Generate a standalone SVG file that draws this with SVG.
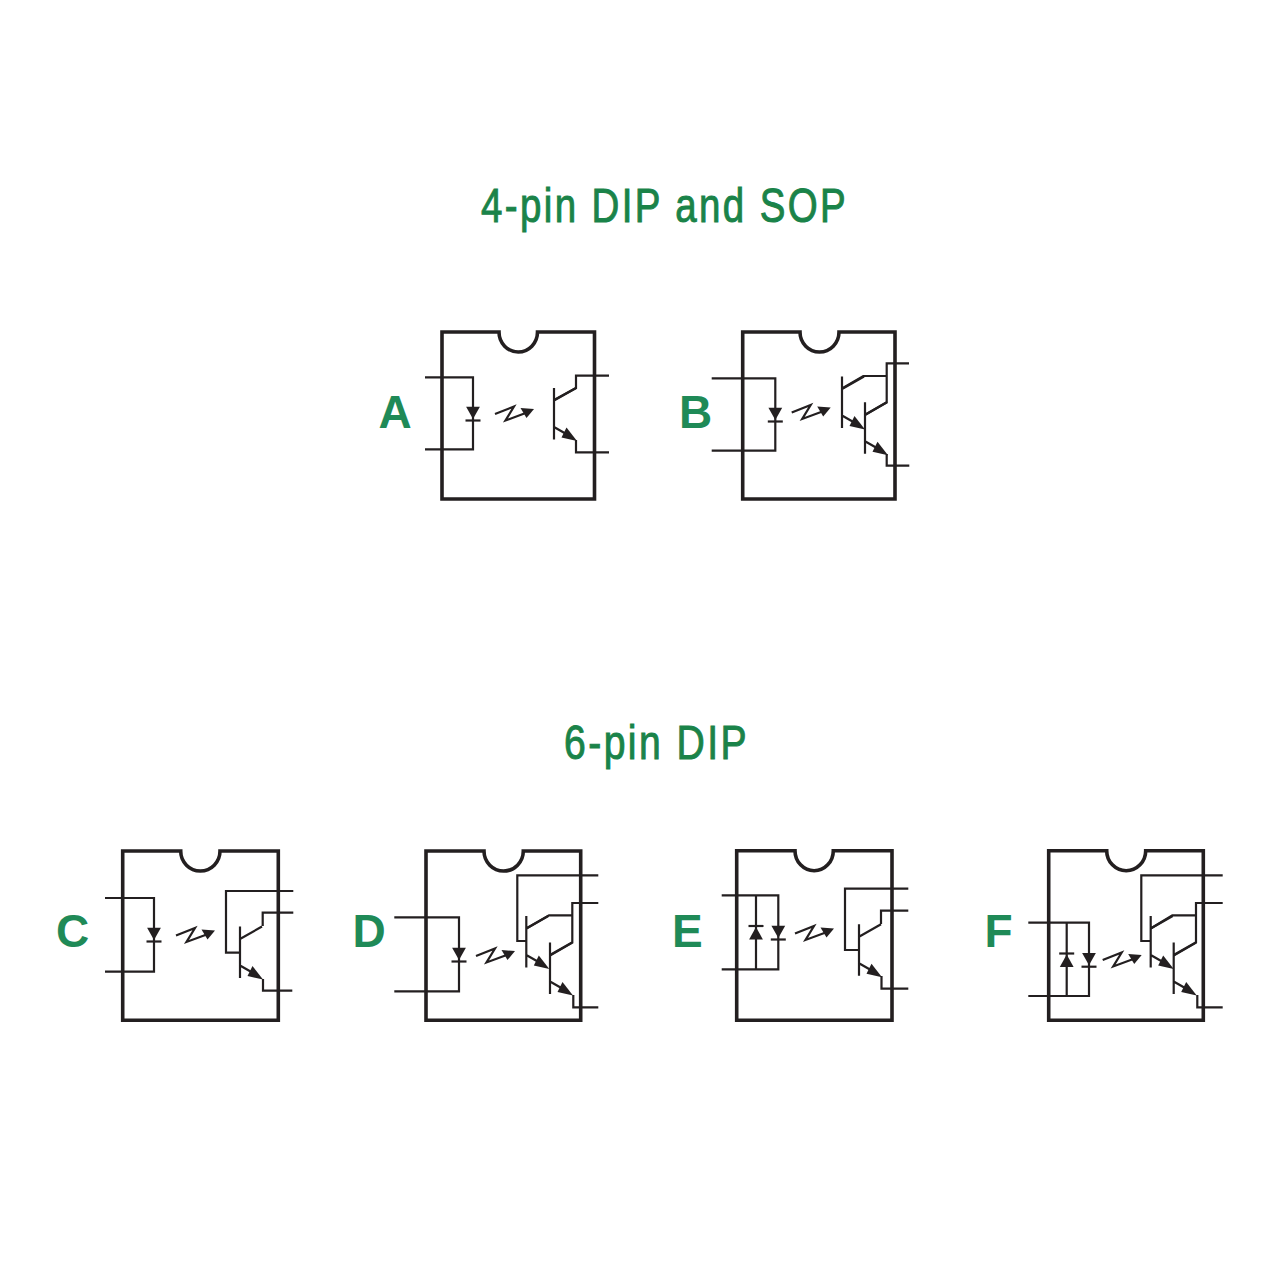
<svg xmlns="http://www.w3.org/2000/svg" width="1280" height="1280" viewBox="0 0 1280 1280">
<style>
.box{fill:#fff;stroke:#231f20;stroke-width:3.6;stroke-linejoin:miter}
.w{fill:none;stroke:#231f20;stroke-width:2.2}
.f{fill:#231f20;stroke:none}
.title{font-family:"Liberation Sans",Arial,sans-serif;font-size:48px;letter-spacing:3px;fill:#1a8349;stroke:#1a8349;stroke-width:1}
.letter{font-family:"Liberation Sans",Arial,sans-serif;font-size:46px;font-weight:bold;fill:#1f8a57}
</style>
<defs>
<g id="led-down"><path class="f" d="M-6.9-6.3H6.9L0 6Z"/><path class="w" d="M-7.5 7.5H7.5"/></g>
<g id="led-up"><path class="f" d="M-6.9 7H6.9L0-5.5Z"/><path class="w" d="M-7.5-6.5H7.5"/></g>
<g id="bolt"><path class="w" d="M0 7.5 19 0 10.5 14 30 6.8"/><path class="f" d="M39 2.5 25.5 1.5 31.5 11.500Z"/></g>
<g id="npn"><path class="w" d="M0 0V51.5M0 12.5 22 0M0 39 14 47"/><path class="f" d="M23 53 12.5 39.500 7.500 49.500Z"/></g>
</defs>

<text class="title" x="481" y="222" textLength="367" lengthAdjust="spacingAndGlyphs">4-pin DIP and SOP</text>
<text class="title" x="564" y="759" textLength="185" lengthAdjust="spacingAndGlyphs">6-pin DIP</text>

<g id="node-A">
<path class="box" d="M442 332H499A19.25 20 0 0 0 537.5 332H594.5V499H442Z"/>
<g class="w"><path d="M425 377.3H473V449.3H425"/><path d="M554 400 576 388V375.7H609M576 440V452.3H609"/></g>
<use href="#led-down" x="473" y="413"/><use href="#bolt" x="495" y="406.5"/><use href="#npn" x="554" y="388"/>
<text class="letter" x="378.500" y="428">A</text>
</g>

<g id="node-B">
<path class="box" d="M742.7 332H800A19.5 20 0 0 0 839 332H895V499H742.7Z"/>
<g class="w"><path d="M711.7 378.3H775.3V450.7H711.7"/><path d="M842 388.500 863.3 376H886.7M909 363.3H886.7V402.3L865 415M886.7 454V465.7H909.3"/></g>
<use href="#led-down" x="775.3" y="414"/><use href="#bolt" x="791.7" y="405"/><use href="#npn" x="842" y="376.500"/><use href="#npn" x="865" y="402.3"/>
<text class="letter" x="679" y="428">B</text>
</g>

<g id="node-C">
<path class="box" d="M122.7 851H180.7A19.65 20 0 0 0 220 851H278.3V1020.3H122.7Z"/>
<g class="w"><path d="M105 898H154V971.7H105"/><path d="M240 952.7H226V891H293.3M262.7 926V912.7H293.3M263 979V990.7H292.3"/></g>
<use href="#led-down" x="154" y="934"/><use href="#bolt" x="176" y="928"/><use href="#npn" x="240" y="926.500"/>
<text class="letter" x="56" y="947">C</text>
</g>

<g id="node-D">
<path class="box" d="M426 851H484A19.65 20 0 0 0 523.3 851H580.7V1020.3H426Z"/>
<g class="w"><path d="M394.3 917.3H459V991.3H394.3"/><path d="M526.3 941H517.3V875.3H598.3M526.3 928.500 549 915.3H572.3M598.3 903H572.3V942.7L550 955.500M573.3 995V1007.3H598.3"/></g>
<use href="#led-down" x="459" y="954"/><use href="#bolt" x="476" y="948.500"/><use href="#npn" x="526.3" y="916"/><use href="#npn" x="550" y="942.500"/>
<text class="letter" x="352.500" y="947">D</text>
</g>

<g id="node-E">
<path class="box" d="M736.7 850.7H795A19.15 20 0 0 0 833.3 850.7H892V1020.3H736.7Z"/>
<g class="w"><path d="M721.7 895.3H778.3V969.3H721.7M756 895.3V969.3"/><path d="M859 950H845V888.7H908.3M881 924V910.7H908.3M881.500 976V988.7H908.3"/></g>
<use href="#led-up" x="756" y="932.500"/><use href="#led-down" x="778.3" y="932"/><use href="#bolt" x="795" y="926"/><use href="#npn" x="859" y="924.3"/>
<text class="letter" x="672" y="947">E</text>
</g>

<g id="node-F">
<path class="box" d="M1048.7 850.7H1106.7A19.5 20 0 0 0 1145.7 850.7H1203.3V1020.3H1048.7Z"/>
<g class="w"><path d="M1028.3 922.7H1089V996H1028.3M1066.7 922.7V996"/><path d="M1150.7 941H1141.3V875.3H1222.7M1150.7 928.500 1172.3 915.3H1196M1222.7 903H1196V942.7L1173.7 955.500M1197.3 995V1007.3H1222.7"/></g>
<use href="#led-up" x="1066.7" y="960"/><use href="#led-down" x="1089" y="959.2"/><use href="#bolt" x="1102.7" y="952.500"/><use href="#npn" x="1150.7" y="916"/><use href="#npn" x="1173.7" y="942.500"/>
<text class="letter" x="984.500" y="947">F</text>
</g>
</svg>
